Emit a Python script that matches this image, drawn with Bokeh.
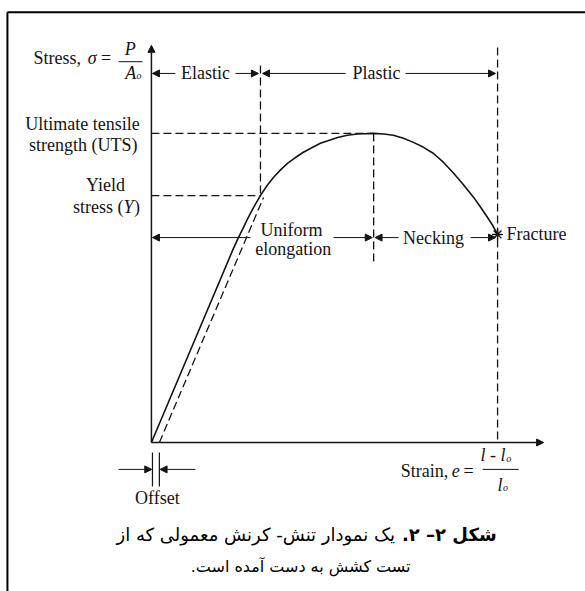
from bokeh.plotting import figure
from bokeh.models import Arrow, NormalHead, Range1d
from bokeh.core.properties import value
from bokeh.embed import file_html
from bokeh.resources import INLINE

# Engineering stress-strain curve (schematic units: fracture strain = 1, UTS = 1)
strain = [0.0, 0.237, 0.251, 0.266, 0.277, 0.289, 0.301, 0.315, 0.332, 0.353,
          0.373, 0.393, 0.416, 0.439, 0.462, 0.488, 0.512, 0.538, 0.566, 0.595,
          0.618, 0.642, 0.671, 0.699, 0.728, 0.757, 0.786, 0.815, 0.844, 0.873,
          0.902, 0.931, 0.951, 0.971, 0.986, 1.0]
stress = [0.0, 0.628, 0.662, 0.696, 0.722, 0.748, 0.772, 0.799, 0.828, 0.858,
          0.882, 0.903, 0.922, 0.939, 0.953, 0.968, 0.977, 0.987, 0.994, 0.998,
          0.999, 1.0, 0.998, 0.994, 0.984, 0.971, 0.955, 0.935, 0.906, 0.871,
          0.833, 0.793, 0.761, 0.728, 0.702, 0.673]

yield_strain, yield_stress = 0.315, 0.799
uts_strain, uts_stress = 0.642, 1.0
fracture_strain, fracture_stress = 1.0, 0.673

# offset line parallel to the elastic part
offset_strain = [0.023, 0.324]
offset_stress = [0.0, 0.793]

SERIF = value("Liberation Serif")
INK = "#141414"

p = figure(width=585, height=591,
           x_range=Range1d(-0.436, 1.254), y_range=Range1d(-0.482, 1.430),
           output_backend="svg", toolbar_location=None,
           x_axis_location=None, y_axis_location=None,
           min_border=0, outline_line_color=None, background_fill_color="white")
p.grid.visible = False


def label(x, y, txt, align="center", style="normal", size="18px", font=SERIF, color=INK):
    p.text(x=[x], y=[y], text=[txt], text_font=font, text_font_size=size,
           text_font_style=style, text_align=align, text_baseline="middle",
           text_color=color)


def arrow(x0, y0, x1, y1, width=1):
    p.add_layout(Arrow(end=NormalHead(size=7, fill_color=INK, line_color=INK, line_width=1),
                       x_start=x0, y_start=y0, x_end=x1, y_end=y1,
                       line_color=INK, line_width=width))


# frame lines (left and top)
p.segment(x0=[-0.416, -0.416], y0=[-0.482, 1.392], x1=[-0.416, 1.254], y1=[1.392, 1.392],
          line_color="black", line_width=2)

# axes with arrowheads
arrow(0, 0, 0, 1.285, width=1.5)
arrow(0, 0, 1.133, 0, width=1.5)

# dashed guide lines
dash = dict(line_color=INK, line_width=1.3, line_dash="8 4")
p.line([0, yield_strain], [yield_stress, yield_stress], **dash)
p.line([yield_strain, yield_strain], [1.220, yield_stress], **dash)
p.line([0, uts_strain], [uts_stress, uts_stress], **dash)
p.line([uts_strain, uts_strain], [uts_stress, 0.573], **dash)
p.line([fracture_strain, fracture_strain], [1.278, 0], **dash)
p.line(offset_strain, offset_stress, **dash)

# the curve
p.line(strain, stress, line_color=INK, line_width=1.6, line_join="round")
p.scatter([fracture_strain], [fracture_stress], marker="asterisk", size=11,
          line_color=INK, line_width=1.4)

# Elastic / Plastic ranges
row1 = 1.194
arrow(0.069, row1, 0.003, row1)
label(0.156, row1, "Elastic")
arrow(0.243, row1, yield_strain - 0.006, row1)
arrow(0.561, row1, yield_strain + 0.006, row1)
label(0.650, row1, "Plastic")
arrow(0.734, row1, fracture_strain - 0.006, row1)

# Uniform elongation / Necking ranges
row2 = 0.663
arrow(0.286, row2, 0.003, row2)
label(0.405, 0.686, "Uniform")
label(0.410, 0.625, "elongation")
arrow(0.526, row2, uts_strain - 0.004, row2)
arrow(0.714, row2, uts_strain + 0.004, row2)
label(0.815, row2, "Necking")
arrow(0.922, row2, fracture_strain - 0.006, row2)
label(fracture_strain + 0.026, fracture_stress + 0.003, "Fracture", align="left")

# stress axis title: Stress, sigma = P / A_o
label(-0.341, 1.243, "Stress,", align="left")
label(-0.171, 1.243, "σ", style="italic")
label(-0.131, 1.243, "=")
label(-0.061, 1.272, "P", style="italic")
p.segment(x0=[-0.095], y0=[1.232], x1=[-0.026], y1=[1.232], line_color=INK, line_width=1)
label(-0.044, 1.197, "A", style="italic", align="right")
label(-0.043, 1.188, "o", style="italic", size="10px", align="left")

# stress levels
label(-0.199, 1.032, "Ultimate tensile")
label(-0.197, 0.961, "strength (UTS)")
label(-0.133, 0.832, "Yield")
label(-0.081, 0.761, "stress (", align="right")
label(-0.081, 0.761, "Y", style="italic", align="left")
label(-0.050, 0.761, ")", align="left")

# strain axis title: Strain, e = (l - l_o) / l_o
label(0.720, -0.091, "Strain,", align="left")
label(0.879, -0.091, "e", style="italic")
label(0.916, -0.091, "=")
label(1.023, -0.042, "l - l", style="italic", align="right")
label(1.025, -0.052, "o", style="italic", size="10px", align="left")
p.segment(x0=[0.957], y0=[-0.087], x1=[1.061], y1=[-0.087], line_color=INK, line_width=1)
label(1.014, -0.136, "l", style="italic", align="right")
label(1.016, -0.146, "o", style="italic", size="10px", align="left")

# offset marker
p.segment(x0=[0.003, offset_strain[0]], y0=[-0.032, -0.032],
          x1=[0.003, offset_strain[0]], y1=[-0.142, -0.142], line_color=INK, line_width=1.2)
arrow(-0.095, -0.087, 0.001, -0.087)
arrow(0.127, -0.087, offset_strain[0] + 0.002, -0.087)
label(0.017, -0.178, "Offset")

# caption (Persian)
FA = value("DejaVu Sans")
label(0.997, -0.298, "\u200fشکل ۲– ۲.\u200f", align="right", style="bold", size="18px", font=FA, color="black")
label(0.704, -0.298, "\u200fیک نمودار تنش- کرنش معمولی که از\u200f", align="right", size="18px", font=FA, color="black")
label(0.431, -0.401, "\u200fتست کشش به دست آمده است.\u200f", size="16px", font=FA, color="black")

open("out.html", "w").write(file_html(p, INLINE))
